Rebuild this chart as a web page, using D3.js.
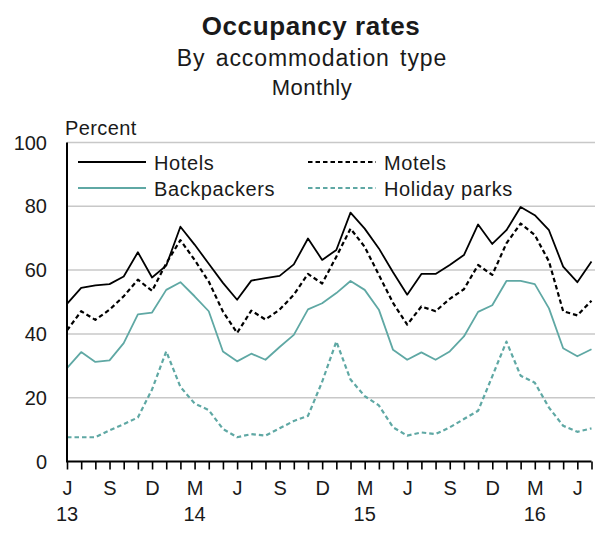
<!DOCTYPE html>
<html>
<head>
<meta charset="utf-8">
<script src="https://cdn.jsdelivr.net/npm/d3@7"></script>
<style>
  body { margin: 0; background: #fff; }
  text { font-family: "Liberation Sans", Arial, sans-serif; fill: #1a1a1a; }
</style>
</head>
<body>
<span></span>
<script>
let width = 595;
let height = 539;

// months from Jun 2013 to Jul 2016
let months = [
  "2013-06", "2013-07", "2013-08", "2013-09", "2013-10", "2013-11", "2013-12",
  "2014-01", "2014-02", "2014-03", "2014-04", "2014-05", "2014-06", "2014-07",
  "2014-08", "2014-09", "2014-10", "2014-11", "2014-12", "2015-01", "2015-02",
  "2015-03", "2015-04", "2015-05", "2015-06", "2015-07", "2015-08", "2015-09",
  "2015-10", "2015-11", "2015-12", "2016-01", "2016-02", "2016-03", "2016-04",
  "2016-05", "2016-06", "2016-07"
];

let hotels = [49.4, 54.4, 55.2, 55.6, 58, 65.6, 57.7, 61.4, 73.6, 68, 62, 56, 50.7,
  56.7, 57.5, 58.2, 61.8, 69.9, 63.2, 66.3, 78, 73, 66.8, 59.3, 52.3, 58.8, 58.8,
  61.6, 64.7, 74.3, 68.2, 72.5, 79.8, 77.2, 72.5, 61.1, 56.2, 62.7];
let motels = [41.1, 47.1, 44.4, 47.6, 51.8, 57, 53.5, 62.1, 69.4, 63.2, 56.4, 47, 40.3,
  47.3, 44.5, 47.6, 52.3, 58.8, 55.8, 64.2, 73, 67.3, 58.5, 49.7, 42.9, 48.6, 47.1,
  51, 54, 61.6, 58.5, 68.4, 74.6, 71, 62.7, 47.1, 45.8, 50.4];
let backpackers = [29.3, 34.3, 31.2, 31.7, 37.1, 46.1, 46.7, 53.8, 56.2, 51.8, 47.1, 34.5, 31.4,
  33.8, 31.9, 35.9, 39.7, 47.7, 49.6, 52.8, 56.6, 53.8, 47.6, 35, 31.9, 34.2, 31.9,
  34.5, 39.2, 46.9, 49, 56.6, 56.6, 55.6, 48, 35.5, 33, 35.2];
let holidayParks = [7.6, 7.6, 7.6, 9.8, 11.7, 13.8, 22.6, 34.5, 23.4, 18.2, 16.1, 10.2, 7.6,
  8.6, 8.1, 10.4, 12.7, 14.3, 25, 37.6, 25.7, 20.5, 17.6, 10.7, 8.1, 9.1, 8.6,
  10.7, 13.3, 15.9, 26.7, 37.6, 26.9, 24.7, 16.9, 11.2, 9.3, 10.4];

let yTicks = [0, 20, 40, 60, 80, 100];
let quarterLabels = { "06": "J", "09": "S", "12": "D", "03": "M" };
let yearMonths = ["2013-06", "2014-03", "2015-03", "2016-03"];
let yearLabels = ["13", "14", "15", "16"];

let teal = "#5fa8a4";
let series = [
  { name: "Hotels", values: hotels, color: "#000", dash: null, width: 1.8, lx: 78, ly: 162 },
  { name: "Motels", values: motels, color: "#000", dash: "4.5,3", width: 2.2, lx: 308, ly: 162 },
  { name: "Backpackers", values: backpackers, color: teal, dash: null, width: 1.8, lx: 78, ly: 188 },
  { name: "Holiday parks", values: holidayParks, color: teal, dash: "4.5,3", width: 2.2, lx: 308, ly: 188 }
];

let svg = d3.select("span")
    .append("svg")
    .attr("width", width)
    .attr("height", height)

let plotLeft = 67, plotRight = 591.5, plotTop = 142.5, plotBottom = 461.5;

let x = d3.scalePoint().domain(months).range([plotLeft, plotRight]);
let y = d3.scaleLinear().domain([0, 100]).range([plotBottom, plotTop]);

// titles
svg.append("text").attr("x", 311).attr("y", 35).attr("text-anchor", "middle")
    .style("font-size", "26px").style("font-weight", "bold").style("letter-spacing", "0.6px")
    .text("Occupancy rates");
svg.append("text").attr("x", 312).attr("y", 66).attr("text-anchor", "middle")
    .style("font-size", "23px").style("letter-spacing", "0.9px").style("word-spacing", "3px")
    .text("By accommodation  type");
svg.append("text").attr("x", 312).attr("y", 95).attr("text-anchor", "middle")
    .style("font-size", "22px").style("letter-spacing", "0.5px")
    .text("Monthly");

// gridlines
svg.append("g").selectAll("line")
    .data(yTicks.filter(d => d > 0))
    .join("line")
    .attr("x1", plotLeft).attr("x2", width)
    .attr("y1", d => y(d)).attr("y2", d => y(d))
    .attr("stroke", "#c8c8c8").attr("stroke-width", 1.5);

// y labels
svg.append("g").selectAll("text")
    .data(yTicks)
    .join("text")
    .attr("x", 47).attr("y", d => y(d) + 7)
    .attr("text-anchor", "end")
    .style("font-size", "20px")
    .text(d => d);

svg.append("text").attr("x", 65).attr("y", 135)
    .style("font-size", "20px").style("letter-spacing", "0.4px")
    .text("Percent");

// lines
let line = d3.line()
    .x((d, i) => x(months[i]))
    .y(d => y(d));

series.forEach(function (s) {
    svg.append("path")
        .attr("d", line(s.values))
        .attr("fill", "none")
        .attr("stroke", s.color)
        .attr("stroke-width", s.width)
        .attr("stroke-dasharray", s.dash)
        .attr("stroke-linejoin", "round");
});

// legend
series.forEach(function (s) {
    svg.append("line")
        .attr("x1", s.lx).attr("x2", s.lx + 68)
        .attr("y1", s.ly).attr("y2", s.ly)
        .attr("stroke", s.color)
        .attr("stroke-width", s.width)
        .attr("stroke-dasharray", s.dash);
    svg.append("text")
        .attr("x", s.lx + 76).attr("y", s.ly + 7.5)
        .style("font-size", "20px").style("letter-spacing", "0.6px")
        .text(s.name);
});

// x axis
let xAxis = svg.append("g")
    .attr("transform", "translate(0," + plotBottom + ")")
    .call(d3.axisBottom(x)
        .tickSize(8)
        .tickPadding(11)
        .tickFormat(m => quarterLabels[m.slice(5)] || ""));
xAxis.select(".domain").attr("stroke", "#000").attr("stroke-width", 2).attr("d", "M" + plotLeft + ",0H" + plotRight);
xAxis.selectAll(".tick line").attr("stroke", "#000").attr("stroke-width", 1.6);
xAxis.selectAll(".tick text")
    .attr("font-family", null).attr("font-size", null)
    .style("font-size", "20px").style("fill", "#1a1a1a");
xAxis.attr("font-family", null).attr("font-size", null);

svg.append("g").selectAll("text")
    .data(yearLabels)
    .join("text")
    .attr("x", (d, i) => x(yearMonths[i]))
    .attr("y", 521)
    .attr("text-anchor", "middle")
    .style("font-size", "20px")
    .text(d => d);

// y axis line
svg.append("line")
    .attr("x1", plotLeft).attr("x2", plotLeft)
    .attr("y1", plotTop).attr("y2", plotBottom + 1)
    .attr("stroke", "#000").attr("stroke-width", 2);
</script>
</body>
</html>
